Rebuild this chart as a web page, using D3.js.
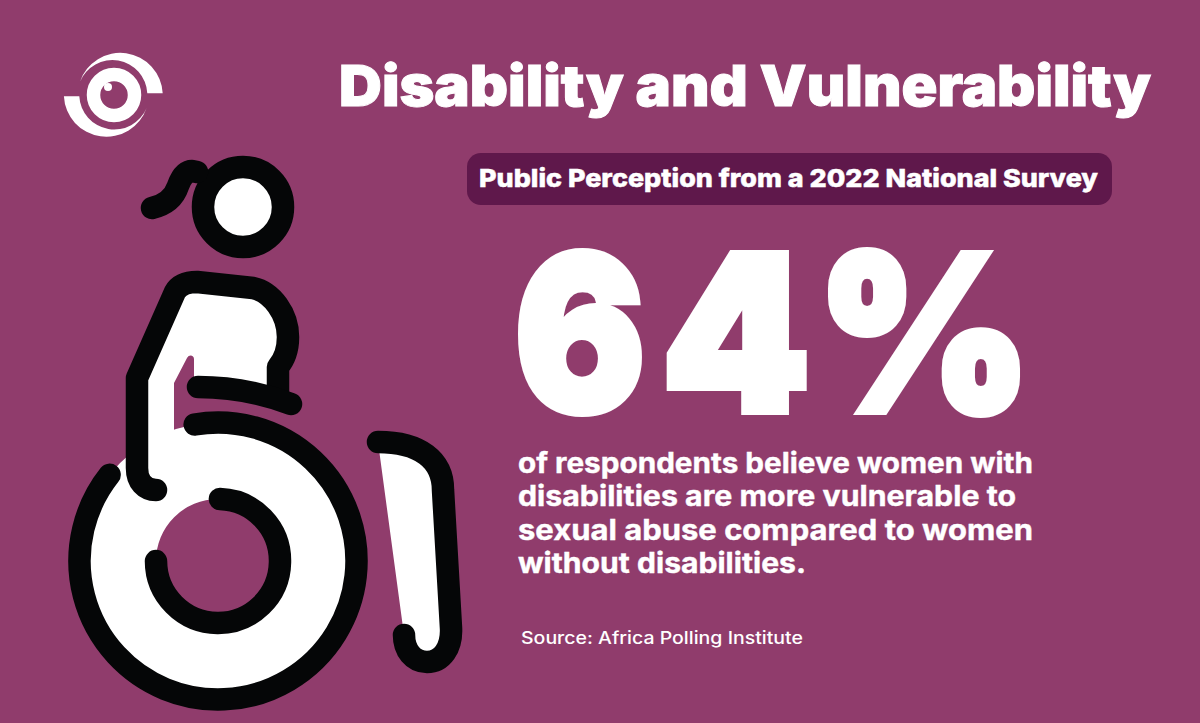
<!DOCTYPE html>
<html>
<head>
    <meta charset="utf-8">
    <script src="https://cdn.jsdelivr.net/npm/d3@7"></script>
    <style>
        html, body { margin: 0; padding: 0; background: #903c6c; overflow: hidden; }
        svg { display: block; }
        text { font-family: Inter, "Open Sans", sans-serif; fill: #fff; stroke: #fff; }
    </style>
</head>

<body>

    <div id="graph"></div>

<script>

// content of the infographic
const titleText = ["Disability and Vulnerability"];
const subtitleText = ["Public Perception from a 2022 National Survey"];
const statValue = [64];
const bodyLines = [
    "of respondents believe women with",
    "disabilities are more vulnerable to",
    "sexual abuse compared to women",
    "without disabilities."
];
const sourceText = ["Source: Africa Polling Institute"];

const width = 1200, height = 723;
const bg = "#903c6c", black = "#050607", white = "#ffffff";

const svg = d3.select("#graph")
  .append("svg")
    .attr("width", width)
    .attr("height", height);

svg.append("rect")
    .attr("width", width)
    .attr("height", height)
    .attr("fill", bg);

// logo: eye and two swooshes
const logo = svg.append("g");
const swoosh = "M162.7,93.3 A42.5,42.5 0 0 0 80,81.7 A35,35 0 0 1 147.3,93.3 Z";
logo.append("path").attr("d", swoosh).attr("fill", white);
logo.append("path").attr("d", swoosh).attr("fill", white)
    .attr("transform", "rotate(180,113.3,94.8)");
logo.append("circle").attr("cx", 114).attr("cy", 95).attr("r", 20.5)
    .attr("fill", "none").attr("stroke", white).attr("stroke-width", 13.5);
logo.append("circle").attr("cx", 108).attr("cy", 87).attr("r", 4).attr("fill", white);

// wheelchair figure
const figure = svg.append("g");
const lineStyle = (sel) => sel
    .attr("fill", "none")
    .attr("stroke", black)
    .attr("stroke-width", 22.5)
    .attr("stroke-linecap", "round")
    .attr("stroke-linejoin", "round");

// white parts under the black outline
figure.append("path")
    .attr("d", "M197,282 L253,288 C272,292 288,314 288,337 C288,350 284,360 278,367 L278,393 L194,385 L194,359 C194,355 189,354 187,358 L174,383 L174,435 L190,445 L155,495 L137,490 L137,378 L175,290 Z")
    .attr("fill", white);

const wheelX = 218, wheelY = 561;
const donut = d3.arc()({innerRadius: 62, outerRadius: 138.5, startAngle: 0, endAngle: 2 * Math.PI});
figure.append("path")
    .attr("d", donut)
    .attr("transform", `translate(${wheelX},${wheelY})`)
    .attr("fill", white);

// footrest
figure.append("path")
    .attr("d", "M378,442 C420,442 443,460 443,490 L451,628 C452,648 442,662 427,662 C413,662 404,650 404,635")
    .call(lineStyle)
    .attr("fill", white);

// big wheel and inner rim, angles
const rimPath = d3.path();
rimPath.arc(wheelX, wheelY, 138.5, -2.47, -1.74, true);
figure.append("path").attr("d", rimPath.toString()).call(lineStyle);
const innerPath = d3.path();
innerPath.arc(wheelX, wheelY, 62, -1.54, 3.14, false);
figure.append("path").attr("d", innerPath.toString()).call(lineStyle);

// body outline, seat
figure.append("path")
    .attr("d", "M156,490 C145,490 137,482 137,468 L137,378 L175,292 C179,285 187,282 197,282 L253,288 C272,292 288,314 288,337 C288,350 284,360 278,367 L278,393")
    .call(lineStyle);
figure.append("path")
    .attr("d", "M198,387 C230,387 262,393 291,404")
    .call(lineStyle);

// head and ponytail
figure.append("circle")
    .attr("cx", 243).attr("cy", 207).attr("r", 40)
    .attr("fill", white).attr("stroke", black).attr("stroke-width", 22.5);
figure.append("path")
    .attr("d", "M152,208 C165,205 174,198 178,186 C182,175 187,171 192,171 L197,172")
    .call(lineStyle);

// title
svg.append("text")
    .data(titleText)
    .attr("x", 339).attr("y", 106)
    .attr("font-size", 57).attr("font-weight", 900)
    .attr("stroke-width", 1)
    .attr("textLength", 812).attr("lengthAdjust", "spacingAndGlyphs")
    .text((d) => d);

// subtitle pill
svg.append("rect")
    .attr("x", 467).attr("y", 153)
    .attr("width", 645).attr("height", 52)
    .attr("rx", 14)
    .attr("fill", "#5f184b");
svg.append("text")
    .data(subtitleText)
    .attr("x", 479).attr("y", 187)
    .attr("font-size", 25).attr("font-weight", 800)
    .attr("stroke-width", 0.5)
    .attr("textLength", 619).attr("lengthAdjust", "spacingAndGlyphs")
    .text((d) => d);

// big number, one text per glyph so the gaps can follow the original face
const statGlyphs = (statValue[0] + "%").split("");
const statX = [515, 662, 817];
const statW = [130, 148, 214];
svg.selectAll(".stat")
    .data(statGlyphs)
    .join("text")
    .attr("class", "stat")
    .attr("x", (d, i) => statX[i])
    .attr("y", 411)
    .attr("font-size", 216).attr("font-weight", 900)
    .attr("stroke-width", 8)
    .attr("stroke-linejoin", "miter")
    .attr("textLength", (d, i) => statW[i]).attr("lengthAdjust", "spacingAndGlyphs")
    .text((d) => d);

// description
const bodyWidths = [515, 498, 515, 288];
svg.selectAll(".body-line")
    .data(bodyLines)
    .join("text")
    .attr("class", "body-line")
    .attr("x", 518)
    .attr("y", (d, i) => 473 + i * 33.4)
    .attr("font-size", 28).attr("font-weight", 700)
    .attr("stroke-width", 0.4)
    .attr("textLength", (d, i) => bodyWidths[i]).attr("lengthAdjust", "spacingAndGlyphs")
    .text((d) => d);

// source
svg.append("text")
    .data(sourceText)
    .attr("x", 521).attr("y", 644)
    .attr("font-size", 17).attr("font-weight", 500)
    .attr("stroke-width", 0)
    .attr("textLength", 282).attr("lengthAdjust", "spacingAndGlyphs")
    .text((d) => d);

</script>

</body>
</html>
